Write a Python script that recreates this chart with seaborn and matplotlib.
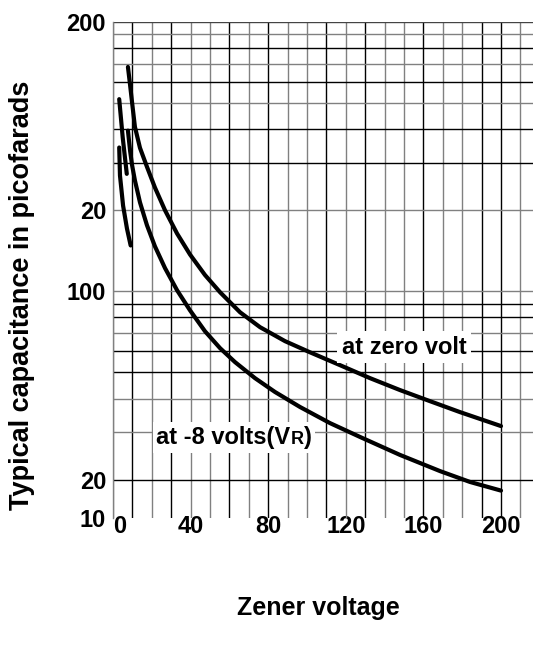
import matplotlib
matplotlib.use("Agg")
import matplotlib.pyplot as plt
import seaborn as sns
import pandas as pd
from matplotlib.offsetbox import TextArea, HPacker, AnnotationBbox

sns.set_theme(style="white")
plt.rcParams['font.family'] = ['Liberation Sans', 'DejaVu Sans']
plt.rcParams['font.weight'] = 'bold'
plt.rcParams['text.color'] = 'black'
plt.rcParams['xtick.color'] = 'black'
plt.rcParams['ytick.color'] = 'black'
plt.rcParams['xtick.labelcolor'] = 'black'
plt.rcParams['ytick.labelcolor'] = 'black'

# ---- data ----
zero_x = [7.7, 8.8, 9.8, 11.3, 13.9, 17.5, 21.6, 26.8, 33.0, 39.7, 47.4, 55.2, 65.5,
          75.8, 88.7, 101.5, 117.0, 132.5, 147.9, 163.4, 178.9, 200]
zero_y = [681, 584, 505, 408, 341, 290, 243, 200, 164, 137, 115, 99.2, 83.6,
          73.6, 65.3, 59.4, 53.2, 47.6, 43.0, 39.1, 35.6, 31.6]

neg8_x = [7.7, 8.8, 9.8, 11.3, 13.9, 17.5, 21.6, 26.8, 33.0, 39.7, 47.4, 55.2, 62.9,
          73.2, 83.5, 96.4, 111.9, 127.3, 147.9, 168.6, 184.0, 200]
neg8_y = [395, 333, 295, 258, 214, 176, 147, 122, 101, 85.0, 71.1, 61.5, 54.6,
          47.6, 42.3, 37.2, 32.4, 28.8, 24.7, 21.5, 19.6, 18.2]

# short duplicated fragments near the left edge
fragB_x = [3.2, 5.0, 7.1]
fragB_y = [517, 373, 273]
fragD_x = [3.2, 3.6, 5.2, 7.2, 9.1]
fragD_y = [342, 269, 208, 171, 148]

x_ticks = [0, 40, 80, 120, 160, 200]
x_tick_labels = ["0", "40", "80", "120", "160", "200"]
y_ticks = [1000, 200, 100, 20, 14.4]
y_tick_labels = ["200", "20", "100", "20", "10"]

v_grid = list(range(0, 220, 10))
h_grid = [20, 30, 40, 50, 60, 70, 80, 90, 100, 200, 300, 400, 500, 600, 700, 800, 900, 1000]

BLACK = "#000000"
GRAY = "#808080"
v_colors = [GRAY, BLACK, GRAY, BLACK, GRAY, GRAY, BLACK, GRAY, BLACK, GRAY, GRAY,
            BLACK, GRAY, BLACK, GRAY, GRAY, BLACK, GRAY, GRAY, BLACK, BLACK, GRAY]
h_colors = [BLACK, GRAY, GRAY, BLACK, BLACK, GRAY, BLACK, BLACK, GRAY,
            GRAY, BLACK, BLACK, GRAY, BLACK, GRAY, BLACK, GRAY, "#444444"]

# ---- figure ----
W, H = 533, 653
fig = plt.figure(figsize=(W / 100, H / 100), dpi=100)
left, right, top, bottom = 113, 533, 22, 518
ax = fig.add_axes([left / W, 1 - bottom / H, (right - left) / W, (bottom - top) / H])
ax.set_yscale('log')
ax.set_xlim(0, 216.5)
ax.set_ylim(14.4, 1000)

for xv, c in zip(v_grid, v_colors):
    ax.axvline(xv, color=c, lw=1.0, zorder=1)
for yv, c in zip(h_grid, h_colors):
    ax.axhline(yv, color=c, lw=1.0, zorder=1)

series = [(zero_x, zero_y), (neg8_x, neg8_y), (fragB_x, fragB_y), (fragD_x, fragD_y)]
for xs, ys in series:
    df = pd.DataFrame({"v": xs, "c": ys})
    sns.lineplot(data=df, x="v", y="c", ax=ax, color="black", lw=3.0,
                 sort=False, estimator=None, zorder=3)

for s in ["top", "right", "bottom"]:
    ax.spines[s].set_visible(False)
ax.spines["left"].set_color(GRAY)
ax.spines["left"].set_linewidth(1.0)

ax.set_xticks(x_ticks)
ax.set_xticklabels(x_tick_labels)
ax.yaxis.set_major_locator(matplotlib.ticker.FixedLocator(y_ticks))
ax.yaxis.set_major_formatter(matplotlib.ticker.FixedFormatter(y_tick_labels))
ax.yaxis.set_minor_locator(matplotlib.ticker.NullLocator())
ax.tick_params(axis='both', length=0, labelsize=17, labelcolor='black')
ax.tick_params(axis='y', pad=5)
ax.tick_params(axis='x', pad=-2)
for lab in ax.get_xticklabels() + ax.get_yticklabels():
    lab.set_fontweight('bold')
ax.get_xticklabels()[0].set_horizontalalignment('left')

ax.set_xlabel("")
ax.set_ylabel("")
fig.text(318 / W, 1 - 608 / H, "Zener voltage", ha='center', va='center',
         fontsize=18, fontweight='bold', color='black')
fig.text(22 / W, 1 - 295 / H, "Typical capacitance in picofarads", ha='center',
         va='center', rotation=90, fontsize=19.5, fontweight='bold', color='black')

ax.text(150, 62, "at zero volt", ha='center', va='center', fontsize=17,
        fontweight='bold', zorder=4, color='black',
        bbox=dict(facecolor='white', edgecolor='none', pad=3))

tp = dict(fontsize=17, fontweight='bold', color='black')
pack = HPacker(children=[TextArea("at -8 volts(V", textprops=tp),
                         TextArea("R", textprops=dict(fontsize=13, fontweight='bold', color='black')),
                         TextArea(")", textprops=tp)],
               align="baseline", pad=0, sep=0)
ab = AnnotationBbox(pack, (62.4, 28.6), xycoords='data', frameon=True,
                    pad=0.25, zorder=4,
                    bboxprops=dict(facecolor='white', edgecolor='none'))
ax.add_artist(ab)

fig.savefig("out.png", dpi=100)
